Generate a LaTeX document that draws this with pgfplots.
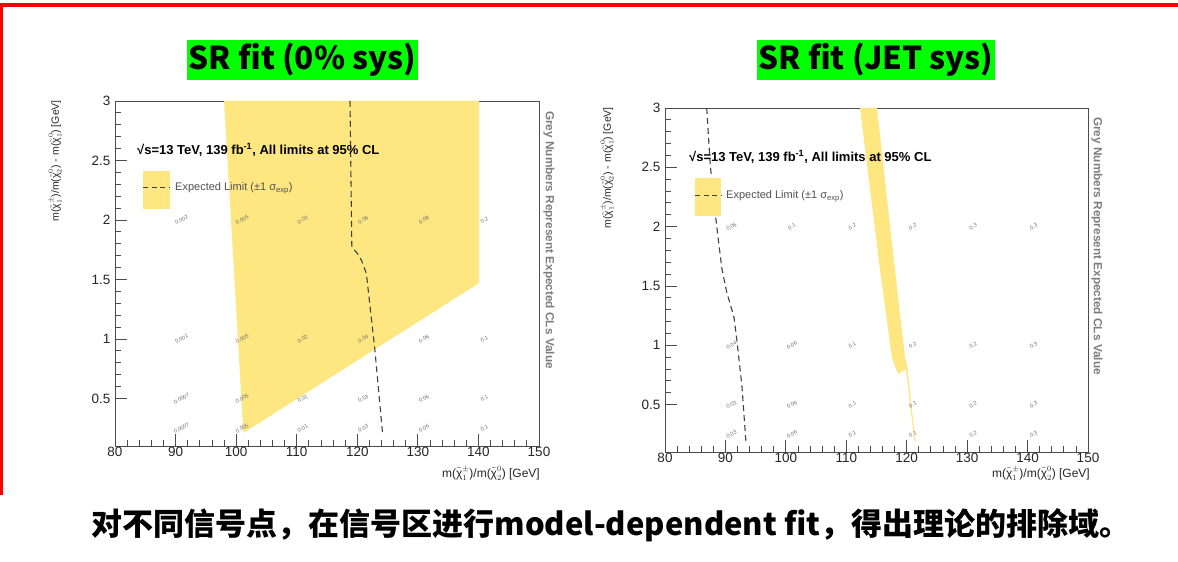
\documentclass[border=0pt]{standalone}
\usepackage{pgfplots}
\pgfplotsset{compat=1.18}
\usepackage{fontspec}
\setmainfont{Liberation Sans}
\newfontfamily\cjk{Noto Sans CJK SC}
\definecolor{bandyellow}{RGB}{254,230,128}
\definecolor{titlegreen}{RGB}{0,255,0}
\definecolor{numgrey}{RGB}{110,110,110}
\definecolor{labgrey}{RGB}{125,125,125}
\definecolor{limgrey}{RGB}{80,80,80}

\newcommand{\chit}[2]{$\tilde{\hbox{χ}}^{#2}_{#1}$}
\newcommand{\fs}[1]{\fontsize{#1}{#1}\selectfont}

% expected CLs values on the signal grid
\pgfplotstableread{
x y v
90 2 0.002
100 2 0.005
110 2 0.03
120 2 0.06
130 2 0.08
140 2 0.2
90 1 0.001
100 1 0.005
110 1 0.02
120 1 0.04
130 1 0.06
140 1 0.1
90 0.5 0.0007
100 0.5 0.005
110 0.5 0.01
120 0.5 0.03
130 0.5 0.06
140 0.5 0.1
90 0.25 0.0007
100 0.25 0.005
110 0.25 0.01
120 0.25 0.03
130 0.25 0.06
140 0.25 0.1
}\clsnosys
\pgfplotstableread{
x y v
90 2 0.06
100 2 0.1
110 2 0.2
120 2 0.2
130 2 0.3
140 2 0.3
90 1 0.04
100 1 0.06
110 1 0.1
120 1 0.2
130 1 0.2
140 1 0.3
90 0.5 0.03
100 0.5 0.06
110 0.5 0.1
120 0.5 0.1
130 0.5 0.2
140 0.5 0.3
90 0.25 0.03
100 0.25 0.06
110 0.25 0.1
120 0.25 0.1
130 0.25 0.2
140 0.25 0.3
}\clsjet

\tikzset{explim/.style={black!75, line width=1.1pt, dash pattern=on 6pt off 4pt}}

\pgfplotsset{
  rootframe/.style={
    scale only axis,
    xmin=80, xmax=150, ymin=0.1, ymax=3,
    xtick={80,90,...,150}, ytick={0.5,1,1.5,2,2.5,3},
    minor x tick num=4, minor y tick num=4,
    tick align=inside, tick pos=left,
    major tick length=12pt, minor tick length=6pt,
    axis line style={black!70, line width=0.9pt},
    tick style={black!70, line width=0.8pt},
    ticklabel style={font=\fs{13.5}, text=black!85},
    /pgf/number format/assume math mode=true,
    xticklabel style={yshift=2pt},
    yticklabel style={xshift=-1pt},
  },
  clsnums/.style={
    only marks, mark=none, nodes near coords,
    point meta=explicit symbolic,
    nodes near coords style={anchor=center, xshift=6pt, yshift=0pt,
      rotate=28, font=\fs{5.5}, text=numgrey, inner sep=0pt},
  },
}

\begin{document}
\begin{tikzpicture}[x=1pt,y=1pt]
\useasboundingbox (0,0) rectangle (1178,562);

% red slide frame
\draw[red, line width=4pt] (0,556.5) -- (1178,556.5);
\draw[red, line width=3pt] (1.5,558) -- (1.5,67);

% ---------------- left: SR fit, no systematics ----------------
\begin{axis}[rootframe, at={(115pt,116pt)}, anchor=south west,
    width=424pt, height=345pt]
  \addplot[fill=bandyellow, draw=none] coordinates
    {(98.0,3) (140.1,3) (140.1,1.47) (101.2,0.21)} -- cycle;
  \addplot[explim] coordinates
    {(118.8,3) (119.1,1.77) (120.0,1.72) (120.7,1.66) (121.5,1.55)
     (122.9,0.91) (124.2,0.19)};
  \addplot[clsnums] table[x=x, y=y, meta=v] {\clsnosys};
\end{axis}

% ---------------- right: SR fit, JET systematics ----------------
\begin{axis}[rootframe, at={(665pt,110pt)}, anchor=south west,
    width=423pt, height=344pt]
  \addplot[fill=bandyellow, draw=none] coordinates
    {(112.27,3) (115.58,1.634) (117.56,0.892) (118.56,0.757)
     (119.85,0.80) (121.3,0.184) (121.45,0.184) (120.05,0.84)
     (119.72,0.892) (118.06,1.634) (115.08,3)} -- cycle;
  \addplot[explim] coordinates
    {(86.9,3) (87.45,2.55) (87.95,2.27) (88.8,1.9) (89.4,1.65)
     (90.2,1.45) (91.4,1.24) (91.9,1.04) (92.74,0.65) (93.4,0.18)};
  \addplot[clsnums] table[x=x, y=y, meta=v] {\clsjet};
\end{axis}

% titles
\node[fill=titlegreen, inner xsep=1.5pt, inner ysep=0pt, minimum height=40pt,
      font=\cjk\bfseries\fs{31.5}] at (302.5,502) {SR fit (0\% sys)};
\node[fill=titlegreen, inner xsep=1.5pt, inner ysep=0pt, minimum height=40pt,
      font=\cjk\bfseries\fs{31.5}] at (876,502) {SR fit (JET sys)};

% left panel annotations
\node[anchor=west, font=\bfseries\fs{13}, inner sep=0pt] at (137,412)
  {√s=13 TeV, 139 fb\textsuperscript{-1}, All limits at 95\% CL};
\fill[bandyellow] (143,353) rectangle (170,391);
\draw[explim, line width=1pt, dash pattern=on 5pt off 3.5pt] (143,374) -- (170,374);
\node[anchor=west, font=\fs{11}, text=limgrey, inner sep=0pt] at (175,374)
  {Expected Limit (±1 σ\textsubscript{exp})};
\node[rotate=90, anchor=east, font=\fs{10.5}, text=black!85, inner sep=0pt] at (55,462)
  {m(\chit{1}{\pm})/m(\chit{2}{0}) - m(\chit{1}{0}) [GeV]};
\node[anchor=east, font=\fs{12}, text=black!85, inner sep=0pt] at (540,89)
  {m(\chit{1}{\pm})/m(\chit{2}{0}) [GeV]};
\node[rotate=-90, font=\bfseries\fs{11.8}, text=labgrey, inner sep=0pt] at (549,322)
  {Grey Numbers Represent Expected CLs Value};

% right panel annotations
\node[anchor=west, font=\bfseries\fs{13}, inner sep=0pt] at (689,405)
  {√s=13 TeV, 139 fb\textsuperscript{-1}, All limits at 95\% CL};
\fill[bandyellow] (695,346) rectangle (721,384);
\draw[explim, line width=1pt, dash pattern=on 5pt off 3.5pt] (695,366) -- (721,366);
\node[anchor=west, font=\fs{11}, text=limgrey, inner sep=0pt] at (726,366)
  {Expected Limit (±1 σ\textsubscript{exp})};
\node[rotate=90, anchor=east, font=\fs{10.5}, text=black!85, inner sep=0pt] at (607,455)
  {m(\chit{1}{\pm})/m(\chit{2}{0}) - m(\chit{1}{0}) [GeV]};
\node[anchor=east, font=\fs{12}, text=black!85, inner sep=0pt] at (1090,89)
  {m(\chit{1}{\pm})/m(\chit{2}{0}) [GeV]};
\node[rotate=-90, font=\bfseries\fs{11.8}, text=labgrey, inner sep=0pt] at (1097,316)
  {Grey Numbers Represent Expected CLs Value};

% caption line
\node[font=\cjk\bfseries\fs{31}, inner sep=0pt] at (611,37)
  {对不同信号点，在信号区进行model-dependent fit，得出理论的排除域。};
\end{tikzpicture}
\end{document}
